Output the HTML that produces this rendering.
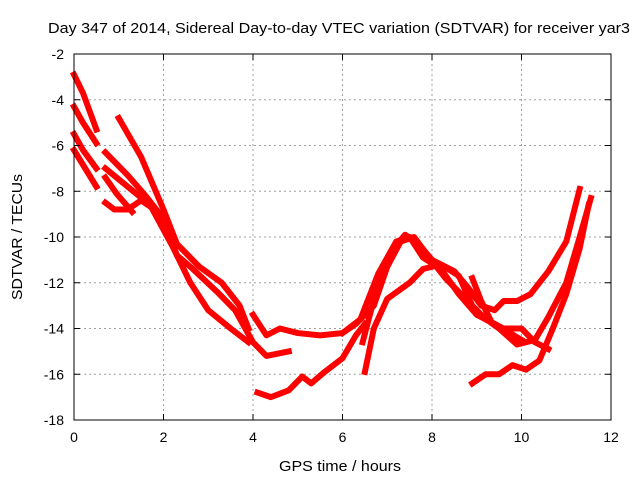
<!DOCTYPE html>
<html><head><meta charset="utf-8"><style>
body{margin:0;background:#fff}
svg{display:block;font-family:"Liberation Sans",sans-serif}
</style></head><body>
<svg id="c" width="640" height="480">
<rect width="640" height="480" fill="#fff"/>
<text x="48" y="33" font-size="15" textLength="582" lengthAdjust="spacingAndGlyphs">Day 347 of 2014, Sidereal Day-to-day VTEC variation (SDTVAR) for receiver yar3</text>
<text x="279" y="471" font-size="15" textLength="122" lengthAdjust="spacingAndGlyphs">GPS time / hours</text>
<text transform="translate(22,300) rotate(-90)" font-size="15" textLength="126" lengthAdjust="spacingAndGlyphs">SDTVAR / TECUs</text>
<g id="grid"></g><g id="series"></g><g id="axes"></g>
</svg>
<script>
const xTicks=[0,2,4,6,8,10,12];
const yTicks=[-2,-4,-6,-8,-10,-12,-14,-16,-18];
const traceA=[[0,-2.9],[0.2,-3.7],[0.5,-5.3]];
const traceB=[[0,-4.3],[0.2,-5.0],[0.5,-5.9]];
const traceC=[[0,-5.5],[0.2,-6.2],[0.5,-7.0]];
const traceD=[[0,-6.2],[0.25,-7.0],[0.5,-7.8]];
const traceE=[[1.0,-4.8],[1.5,-6.5],[2.0,-8.8],[2.3,-10.3],[2.8,-11.3],[3.3,-12.0],[3.7,-13.0],[3.9,-14.0]];
const traceF=[[0.7,-6.3],[1.2,-7.3],[1.6,-8.2],[2.0,-9.2],[2.3,-10.8],[2.6,-11.3],[3.2,-12.4],[3.6,-13.2],[4.0,-14.6],[4.3,-15.2],[4.8,-15.0]];
const traceG=[[0.7,-7.0],[1.2,-7.8],[1.7,-8.6],[2.2,-10.4],[2.6,-12.0],[3.0,-13.2],[3.5,-14.0],[3.9,-14.6]];
const traceH=[[0.7,-8.5],[0.9,-8.8],[1.2,-8.8],[1.5,-8.4],[1.8,-8.8],[2.1,-9.5]];
const traceI=[[0.7,-7.4],[0.95,-8.1],[1.3,-8.9]];
const traceJ=[[4.0,-13.4],[4.3,-14.3],[4.6,-14.0],[5.0,-14.2],[5.5,-14.3],[6.0,-14.2],[6.3,-13.8],[6.7,-13.0],[7.0,-11.3],[7.3,-10.2],[7.6,-10.0],[7.9,-10.8],[8.3,-11.8],[8.7,-12.6],[9.0,-13.3],[9.5,-14.0],[9.9,-14.7],[10.3,-14.5],[10.6,-13.5],[11.0,-12.0],[11.3,-10.0],[11.55,-8.3]];
const traceK=[[4.1,-16.8],[4.4,-17.0],[4.8,-16.7],[5.1,-16.1],[5.3,-16.4],[5.6,-15.9],[6.0,-15.3],[6.3,-14.3],[6.5,-13.8]];
const traceL=[[6.5,-15.9],[6.7,-14.0],[7.0,-12.7],[7.5,-12.0],[7.8,-11.4],[8.2,-11.2],[8.6,-11.7],[8.9,-13.0],[9.2,-13.6],[9.6,-14.0],[10.0,-14.0],[10.3,-14.6],[10.6,-14.9]];
const traceM=[[6.45,-14.6],[6.8,-12.0],[7.1,-10.6],[7.4,-9.9],[7.7,-10.3],[8.0,-11.0],[8.5,-11.5],[8.8,-12.2],[9.1,-13.0],[9.4,-13.2],[9.6,-12.8],[9.9,-12.8],[10.2,-12.5],[10.6,-11.5],[11.0,-10.2],[11.3,-7.9]];
const traceN=[[6.0,-14.2],[6.4,-13.6],[6.8,-11.6],[7.2,-10.2],[7.5,-10.0],[7.8,-10.9],[8.2,-11.4],[8.6,-12.5],[9.0,-13.4],[9.4,-13.8],[10.0,-14.5]];
const traceO=[[8.9,-16.4],[9.2,-16.0],[9.5,-16.0],[9.8,-15.6],[10.1,-15.8],[10.4,-15.4],[10.7,-14.0],[11.0,-12.5],[11.3,-10.5],[11.5,-8.6]];
const traceP=[[8.9,-11.8],[9.1,-12.8],[9.3,-13.6]];
const traces=[traceA,traceB,traceC,traceD,traceE,traceF,traceG,traceH,traceI,traceJ,traceK,traceL,traceM,traceN,traceO,traceP];
const L=74,R=611,T=54,B=420;
const xs=h=>L+(h-0)/(12-0)*(R-L);
const ys=v=>T+(-2-v)/16*(B-T);
const NS="http://www.w3.org/2000/svg";
const grid=document.getElementById('grid'),axes=document.getElementById('axes'),ser=document.getElementById('series');
function mk(tag,attrs,parent){const e=document.createElementNS(NS,tag);for(const k in attrs)e.setAttribute(k,attrs[k]);parent.appendChild(e);return e;}
xTicks.forEach(t=>{const x=xs(t);
 if(t>0&&t<12){const g=mk('line',{x1:x,x2:x,y1:T,y2:B,stroke:'#a0a0a0','stroke-dasharray':'2,3'},grid);
 
 }
 mk('line',{x1:x,x2:x,y1:B,y2:B-6,stroke:'#000'},axes);mk('line',{x1:x,x2:x,y1:T,y2:T+6,stroke:'#000'},axes);
 const tx=mk('text',{x:x,y:B+22,'font-size':14,'text-anchor':'middle'},axes);tx.textContent=t;
 
 });
yTicks.forEach(t=>{const y=ys(t);
 if(t>-18&&t<-2){const g=mk('line',{x1:L,x2:R,y1:y,y2:y,stroke:'#a0a0a0','stroke-dasharray':'2,3'},grid);
 
 }
 mk('line',{x1:L,x2:L+6,y1:y,y2:y,stroke:'#000'},axes);mk('line',{x1:R,x2:R-6,y1:y,y2:y,stroke:'#000'},axes);
 const tx=mk('text',{x:L-10,y:y+5,'font-size':14,'text-anchor':'end'},axes);tx.textContent=t;
 
 });
const fr=mk('rect',{x:L,y:T,width:R-L,height:B-T,fill:'none',stroke:'#000'},axes);


traces.forEach((tr,i)=>{const p=mk('polyline',{points:tr.map(d=>xs(d[0])+','+ys(d[1])).join(' '),fill:'none',stroke:'#ff0000','stroke-width':6,'stroke-linejoin':'round','stroke-linecap':'square'},ser);
 
 });
</script>
</body></html>
